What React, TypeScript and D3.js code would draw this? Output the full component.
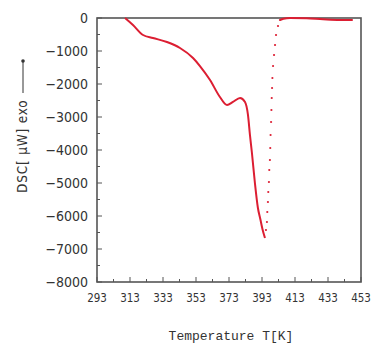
import React from "react";
import * as d3 from "d3";

const xTicks = [293, 313, 333, 353, 373, 393, 413, 433, 453];
const yTicks = [0, -1000, -2000, -3000, -4000, -5000, -6000, -7000, -8000];

// main DSC trace (temperature K, heat flow µW)
const traceT = [310.0, 314.8, 320.9, 326.9, 335.4, 343.3, 351.2, 355.4, 361.5, 367.5, 371.8, 375.4, 379.7, 382.7, 384.5, 385.7, 386.9, 388.7, 390.5, 392.0, 393.3, 394.8];
const traceV = [0, -212, -515, -606, -727, -909, -1212, -1455, -1879, -2394, -2636, -2545, -2424, -2545, -2939, -3545, -4091, -5000, -5750, -6100, -6400, -6667];

// sparse return points after the peak
const returnT = [395.4, 396.0, 396.2, 396.6, 396.8, 397.2, 397.4, 397.8, 398.0, 398.2, 398.5, 398.7, 398.9, 399.1, 399.3, 399.7, 400.3, 400.9, 401.5, 402.7, 403.9];
const returnV = [-6424, -6182, -5879, -5576, -5273, -4970, -4606, -4303, -3939, -3545, -3152, -2788, -2424, -2121, -1818, -1455, -1121, -818, -515, -242, -60];

// baseline after the transition
const tailT = [403.9, 406, 410, 420, 430, 440, 448];
const tailV = [-60, -20, 0, -10, -40, -60, -60];

export default function App() {
  const L = 97, R = 361, T = 18, B = 282;
  const x = d3.scaleLinear().domain([293, 453]).range([L, R]);
  const y = d3.scaleLinear().domain([-8000, 0]).range([B, T]);
  const red = "#dc1e32";
  const axisColor = "#555";

  const line = d3.line<[number, number]>().x((d) => x(d[0])).y((d) => y(d[1])).curve(d3.curveMonotoneX);
  const trace: [number, number][] = traceT.map((t, i) => [t, traceV[i]]);
  const tail: [number, number][] = tailT.map((t, i) => [t, tailV[i]]);

  const xMinor = d3.range(293, 454, 10);
  const yMinor = d3.range(-8000, 1, 500);

  return (
    <svg width={376} height={345} style={{ position: "absolute", left: 0, top: 0, background: "#fff" }}>
      <rect x={0} y={0} width={376} height={345} fill="#fff" />
      {/* minor / major ticks */}
      {xMinor.map((t) => (
        <line key={"xm" + t} x1={x(t)} x2={x(t)} y1={B} y2={B - ((t - 293) % 20 === 0 ? 5 : 3)} stroke={axisColor} strokeWidth={1} />
      ))}
      {yMinor.map((v) => (
        <line key={"ym" + v} x1={L} x2={L + (v % 1000 === 0 ? 5 : 3)} y1={y(v)} y2={y(v)} stroke={axisColor} strokeWidth={1} />
      ))}
      {/* frame */}
      <rect x={L} y={T} width={R - L} height={B - T} fill="none" stroke={axisColor} strokeWidth={1.6} />
      {/* trace */}
      <path d={line(trace) || ""} fill="none" stroke={red} strokeWidth={2} strokeLinejoin="round" />
      {returnT.map((t, i) => (
        <circle key={"r" + i} cx={x(t)} cy={y(returnV[i])} r={1.1} fill={red} />
      ))}
      <path d={line(tail) || ""} fill="none" stroke={red} strokeWidth={2} />
      {/* tick labels */}
      {xTicks.map((t) => (
        <text key={"xt" + t} x={x(t)} y={B + 20} textAnchor="middle" fontFamily="'Liberation Sans Narrow', 'DejaVu Sans Condensed', sans-serif" fontSize={11.5} fill="#333">
          {t}
        </text>
      ))}
      {yTicks.map((v) => (
        <text key={"yt" + v} x={L - 9} y={y(v) + 5} textAnchor="end" fontFamily="'Liberation Sans Narrow', 'DejaVu Sans Condensed', sans-serif" fontSize={14} fill="#333">
          {v === 0 ? "0" : "−" + Math.abs(v)}
        </text>
      ))}
      {/* axis titles */}
      <text x={231} y={340} textAnchor="middle" fontFamily="'Liberation Mono', 'DejaVu Sans Mono', monospace" fontSize={13} fill="#333">
        Temperature T[K]
      </text>
      <text transform="translate(27,193) rotate(-90)" textAnchor="start" fontFamily="'Liberation Sans Narrow', 'DejaVu Sans Condensed', sans-serif" fontSize={13.5} fill="#333" letterSpacing={0.8}>
        DSC[ μW] exo
      </text>
      <line x1={23} x2={23} y1={93} y2={61} stroke="#333" strokeWidth={1} />
      <circle cx={23} cy={61} r={1.8} fill="#333" />
    </svg>
  );
}
